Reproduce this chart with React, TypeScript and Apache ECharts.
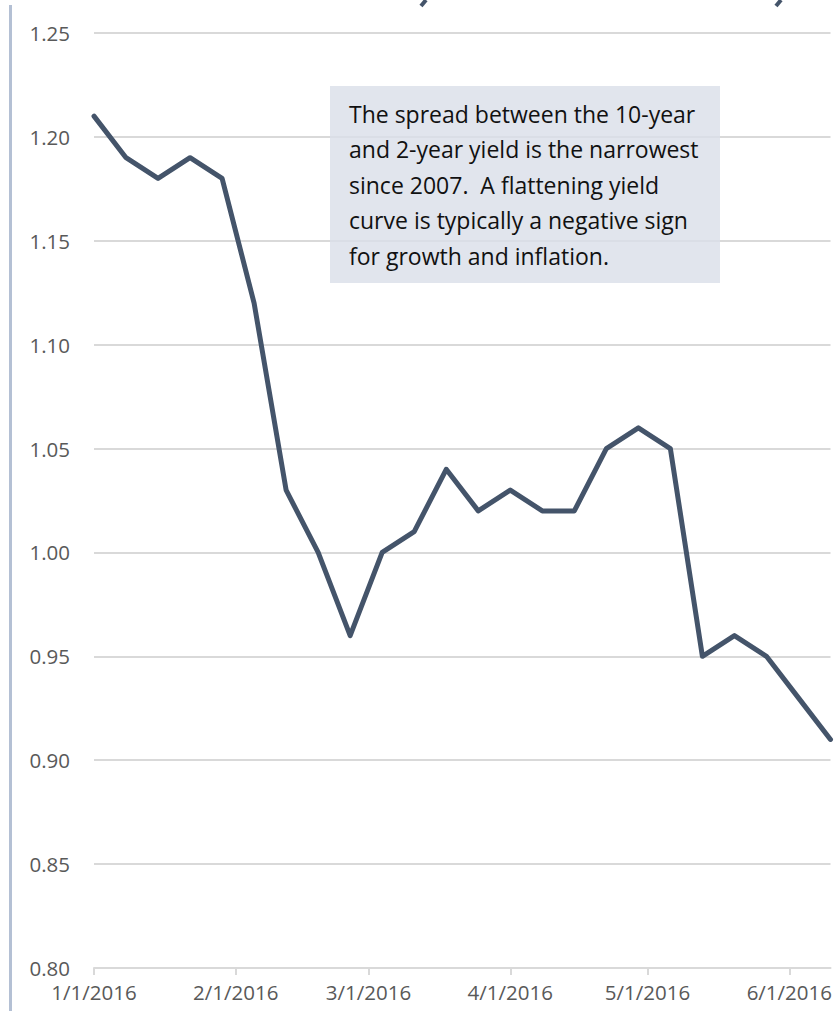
import React, { useEffect, useRef } from "react";
import * as echarts from "echarts";

const dates: string[] = [
  "2016-01-01", "2016-01-08", "2016-01-15", "2016-01-22", "2016-01-29",
  "2016-02-05", "2016-02-12", "2016-02-19", "2016-02-26",
  "2016-03-04", "2016-03-11", "2016-03-18", "2016-03-25",
  "2016-04-01", "2016-04-08", "2016-04-15", "2016-04-22", "2016-04-29",
  "2016-05-06", "2016-05-13", "2016-05-20", "2016-05-27",
  "2016-06-03", "2016-06-10",
];
const spread: number[] = [
  1.21, 1.19, 1.18, 1.19, 1.18,
  1.12, 1.03, 1.0, 0.96,
  1.0, 1.01, 1.04, 1.02,
  1.03, 1.02, 1.02, 1.05, 1.06,
  1.05, 0.95, 0.96, 0.95,
  0.93, 0.91,
];
const monthTicks: string[] = ["2016-01-01", "2016-02-01", "2016-03-01", "2016-04-01", "2016-05-01", "2016-06-01"];
const noteLines: string[] = [
  "The spread between the 10-year",
  "and 2-year yield is the narrowest",
  "since 2007.  A flattening yield",
  "curve is typically a negative sign",
  "for growth and inflation.",
];

const ts = (s: string) => {
  const [y, m, d] = s.split("-").map(Number);
  return Date.UTC(y, m - 1, d);
};

export default function App() {
  const ref = useRef<HTMLDivElement>(null);
  useEffect(() => {
    document.body.style.margin = "0";
    const chart = echarts.init(ref.current!, null, { renderer: "svg" });
    const font = "Open Sans, Noto Sans, sans-serif";
    const tickVals = monthTicks.map(ts);
    chart.setOption({
      animation: false,
      backgroundColor: "#ffffff",
      grid: { left: 94, right: 2, top: 33, bottom: 43, containLabel: false },
      xAxis: {
        type: "value",
        min: ts("2016-01-01"),
        max: ts("2016-06-10"),
        axisLine: { show: true, onZero: false, lineStyle: { color: "#D9D9D9", width: 2 } },
        axisTick: {
          show: true,
          inside: false,
          length: 7,
          lineStyle: { color: "#D9D9D9", width: 2 },
          customValues: tickVals,
        },
        axisLabel: {
          customValues: tickVals,
          color: "#595959",
          fontFamily: font,
          fontSize: 20.5,
          margin: 13,
          showMinLabel: true,
          showMaxLabel: true,
          hideOverlap: false,
          formatter: (v: number) => {
            const d = new Date(v);
            return `${d.getUTCMonth() + 1}/${d.getUTCDate()}/${d.getUTCFullYear()}`;
          },
        },
        splitLine: { show: false },
      },
      yAxis: {
        type: "value",
        min: 0.8,
        max: 1.25,
        interval: 0.05,
        axisLine: { show: false },
        axisTick: { show: false },
        axisLabel: {
          color: "#595959",
          fontFamily: font,
          fontSize: 20.5,
          margin: 24,
          formatter: (v: number) => v.toFixed(2),
        },
        splitLine: { show: true, lineStyle: { color: "#D9D9D9", width: 2 } },
      },
      series: [
        {
          type: "line",
          data: dates.map((d, i) => [ts(d), spread[i]]),
          showSymbol: false,
          symbol: "none",
          lineStyle: { color: "#44546A", width: 5, join: "round", cap: "round" },
          z: 3,
        },
      ],
      graphic: [
        {
          type: "rect",
          left: 9,
          top: 5,
          shape: { width: 3, height: 1006 },
          style: { fill: "#B4C0D4" },
        },
        {
          type: "line",
          shape: { x1: 426, y1: 0, x2: 421, y2: 6 },
          style: { stroke: "#44546A", lineWidth: 4 },
        },
        {
          type: "line",
          shape: { x1: 781, y1: 0, x2: 776, y2: 6 },
          style: { stroke: "#44546A", lineWidth: 4 },
        },
        {
          type: "rect",
          left: 330,
          top: 86,
          z: 10,
          shape: { width: 390, height: 197 },
          style: { fill: "rgba(218,223,232,0.8)" },
        },
        {
          type: "text",
          left: 349,
          top: 96,
          z: 11,
          style: {
            text: noteLines.join("\n"),
            fill: "#111111",
            font: `23px ${font}`,
            lineHeight: 35.5,
          },
        },
      ],
    });
    return () => chart.dispose();
  }, []);
  return (
    <div
      ref={ref}
      style={{ position: "absolute", left: 0, top: 0, width: 835, height: 1011 }}
    />
  );
}
